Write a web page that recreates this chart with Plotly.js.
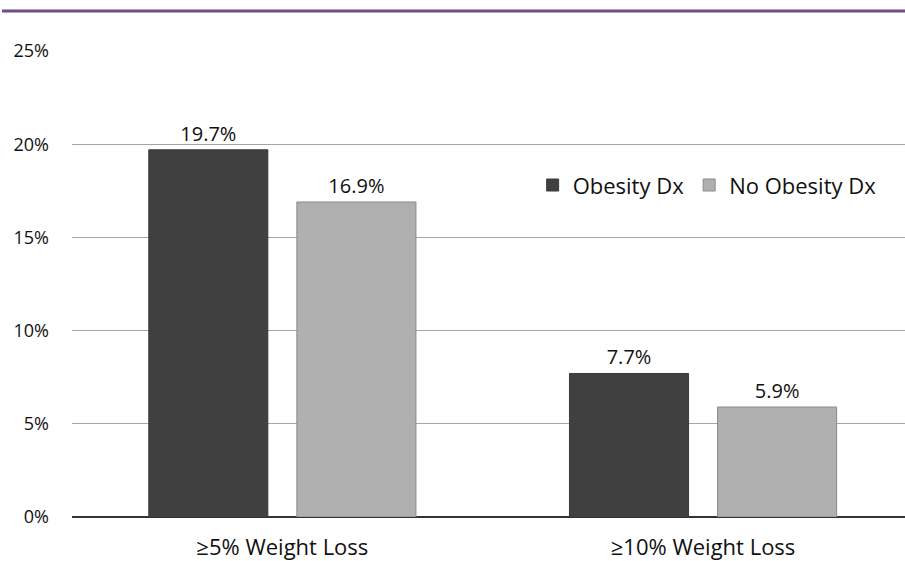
<!DOCTYPE html>
<html><head><meta charset="utf-8">
<script src="https://cdn.plot.ly/plotly-3.0.1.min.js"></script>
<style>html,body{margin:0;padding:0;background:#fff}</style>
</head><body><div id="chart" style="width:905px;height:561px"></div>
<script>
const categories = ["≥5% Weight Loss", "≥10% Weight Loss"];
const obesityDx = [19.7, 7.7];
const noObesityDx = [16.9, 5.9];
const yTicks = [0, 5, 10, 15, 20, 25];
const yTickLabels = ["0%", "5%", "10%", "15%", "20%", "25%"];
const fontFam = "'Open Sans', 'DejaVu Sans', sans-serif";

const traces = [
  {type:'bar', name:'Obesity Dx', x:categories, y:obesityDx,
   marker:{color:'#404040', line:{color:'#3a3a3a', width:1}},
   text:obesityDx.map(v=>v.toFixed(1)+'%'), textposition:'outside', cliponaxis:false,
   textfont:{size:20, color:'#111', family:fontFam}},
  {type:'bar', name:'No Obesity Dx', x:categories, y:noObesityDx,
   marker:{color:'#b0b0b0', line:{color:'#8a8a8a', width:1}},
   text:noObesityDx.map(v=>v.toFixed(1)+'%'), textposition:'outside', cliponaxis:false,
   textfont:{size:20, color:'#111', family:fontFam}}
];
const layout = {
  width:905, height:561,
  margin:{l:72, r:0, t:51, b:44},
  paper_bgcolor:'#fff', plot_bgcolor:'#fff',
  font:{family:fontFam, color:'#111'},
  barmode:'group', bargap:0.296, bargroupgap:0.196,
  showlegend:true,
  legend:{orientation:'h', x:0.553, y:0.712, xanchor:'left', yanchor:'middle',
          font:{size:22, color:'#111'}, bgcolor:'rgba(0,0,0,0)', traceorder:'normal'},
  xaxis:{range:[-0.5,1.48], showgrid:false, zeroline:false, showline:false,
         tickfont:{size:22, color:'#111'}, ticks:'', ticklabelstandoff:15, fixedrange:true},
  yaxis:{range:[0,25], tickvals:yTicks, ticktext:yTickLabels, showgrid:true,
         gridcolor:'#a6a6a6', gridwidth:1.3, zeroline:true, zerolinecolor:'#333', zerolinewidth:1.3,
         showline:false, ticks:'', tickfont:{size:18, color:'#111'}, ticklabelstandoff:22, fixedrange:true},
  shapes:[{type:'line', xref:'paper', yref:'paper', x0:-0.084, x1:1, y0:1.0858, y1:1.0858,
           line:{color:'#6d4c87', width:3}}]
};
Plotly.newPlot('chart', traces, layout, {displayModeBar:false, staticPlot:true});
</script></body></html>
